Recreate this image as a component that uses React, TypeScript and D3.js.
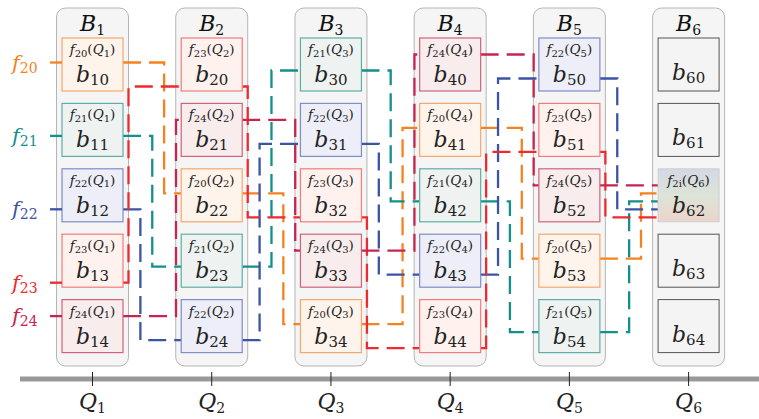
import React from "react";
import * as d3 from "d3";

// ---- data ----
const COLUMNS = ["1", "2", "3", "4", "5", "6"]; // Q_j / B_j subscripts
const FUNCS = ["20", "21", "22", "23", "24"]; // f_k subscripts
const FUNC_COLORS = ["#F58220", "#13908A", "#3B54A5", "#EC2A30", "#C62451"];
const BOX_FILLS = ["#FFF4EB", "#EEF2F0", "#EEEEF8", "#FFF2EE", "#F8ECEC"];
const BOX_STROKES = ["#F4A86C", "#5EAEA8", "#7F8DC9", "#F27C7C", "#D0627C"];
// function index held by each row of columns B1..B5
const ROWS = [
  [0, 1, 2, 3, 4],
  [3, 4, 0, 1, 2],
  [1, 2, 3, 4, 0],
  [4, 0, 1, 2, 3],
  [2, 3, 4, 0, 1],
];
const TARGET_ROW = 2; // b62 collects all
const ROW_IDS = [0, 1, 2, 3, 4];
const PORT_ORDER = [4, 0, 1, 2, 3]; // vertical port order inside a box
const LANE_ORDER = [3, 2, 1, 0, 4]; // vertical channel order in each gap

const W = 759;
const H = 419;
const FONT = "DejaVu Serif";

export default function App() {
  const xC = d3.scalePoint<string>().domain(COLUMNS).range([92.5, 688.6]);
  const rowTop = d3.scaleLinear().domain([0, 4]).range([38, 299.6]);
  const boxW = 61;
  const boxH = 53;
  const portY = d3.scaleLinear().domain([0, 4]).range([16.5, 48.5]);
  const laneX = d3.scaleLinear().domain([0, 4]).range([5.5, 53]);
  const line = d3.line<[number, number]>();

  const fy = (col: number, fi: number) => {
    const row = col < 5 ? ROWS[col].indexOf(fi) : TARGET_ROW;
    return rowTop(row) + portY(PORT_ORDER.indexOf(fi));
  };

  const paths: { d: string; color: string; key: string }[] = [];
  FUNCS.forEach((_, fi) => {
    for (let j = 0; j < 5; j++) {
      const xr = (xC(COLUMNS[j]) as number) + boxW / 2;
      const xl = (xC(COLUMNS[j + 1]) as number) - boxW / 2;
      const y0 = fy(j, fi);
      const y1 = fy(j + 1, fi);
      const lx = xr + laneX(LANE_ORDER.indexOf(fi));
      const pts: [number, number][] = [
        [xr, y0],
        [lx, y0],
        [lx, y1],
        [xl, y1],
      ];
      paths.push({ d: line(pts) as string, color: FUNC_COLORS[fi], key: `p${fi}-${j}` });
    }
  });

  const sub = (main: string, s: string, mainSize: number, subSize: number, dy: number) => (
    <>
      <tspan fontStyle="italic" fontSize={mainSize}>{main}</tspan>
      <tspan fontSize={subSize} dy={dy}>{s}</tspan>
    </>
  );

  const smallLabel = (fs: string, q: string) => (
    <>
      <tspan fontStyle="italic" fontSize={13.5}>f</tspan>
      <tspan fontSize={10} dy={2.5}>{fs}</tspan>
      <tspan fontSize={13.5} dy={-2.5}>(</tspan>
      <tspan fontStyle="italic" fontSize={13.5}>Q</tspan>
      <tspan fontSize={10} dy={2.5}>{q}</tspan>
      <tspan fontSize={13.5} dy={-2.5}>)</tspan>
    </>
  );

  return (
    <svg width={W} height={H} style={{ position: "absolute", left: 0, top: 0, background: "#fff", fontFamily: FONT }}>
      <defs>
        <linearGradient id="g62" x1="0" y1="0" x2="0" y2="1">
          <stop offset="0" stopColor="#D4D8E7" />
          <stop offset="0.5" stopColor="#DDE4D7" />
          <stop offset="1" stopColor="#EBD4CB" />
        </linearGradient>
      </defs>
      {/* containers */}
      {COLUMNS.map((c) => (
        <g key={"c" + c}>
          <rect x={(xC(c) as number) - 36} y={8} width={72} height={358} rx={9} fill="#F4F5F4" stroke="#B5B5B5" strokeWidth={1} />
          <text x={xC(c)} y={31} textAnchor="middle" fill="#111">
            {sub("B", c, 22, 14, 4)}
          </text>
        </g>
      ))}
      {/* paths */}
      {paths.map((p) => (
        <path key={p.key} d={p.d} fill="none" stroke={p.color} strokeWidth={2.3} strokeDasharray="18 8" />
      ))}
      {/* boxes B1..B5 */}
      {ROWS.map((rows, j) =>
        rows.map((fi, r) => {
          const x = (xC(COLUMNS[j]) as number) - boxW / 2;
          const y = rowTop(r);
          return (
            <g key={`b${j}${r}`}>
              <rect x={x} y={y} width={boxW} height={boxH} fill={BOX_FILLS[fi]} stroke={BOX_STROKES[fi]} strokeWidth={1.2} />
              <text x={x + boxW / 2} y={y + 16} textAnchor="middle" fill="#222">
                {smallLabel(FUNCS[fi], COLUMNS[j])}
              </text>
              <text x={x + boxW / 2} y={y + 44} textAnchor="middle" fill="#222">
                {sub("b", `${COLUMNS[j]}${r}`, 22, 15, 3)}
              </text>
            </g>
          );
        })
      )}
      {/* B6 */}
      {ROW_IDS.map((r) => {
        const x = (xC(COLUMNS[5]) as number) - boxW / 2;
        const y = rowTop(r);
        const target = r === TARGET_ROW;
        return (
          <g key={`b6${r}`}>
            <rect x={x} y={y} width={boxW} height={boxH} fill={target ? "url(#g62)" : "#F4F4F4"} stroke={target ? "#CFCFCF" : "#555"} strokeWidth={1} />
            {target && (
              <text x={x + boxW / 2} y={y + 16} textAnchor="middle" fill="#222">
                {smallLabel("2i", COLUMNS[5])}
              </text>
            )}
            <text x={x + boxW / 2} y={target ? y + 44 : y + 42} textAnchor="middle" fill="#222">
              {sub("b", `6${r}`, 22, 15, 3)}
            </text>
          </g>
        );
      })}
      {/* left labels */}
      {FUNCS.map((f, fi) => {
        const y = fy(0, fi);
        return (
          <g key={"l" + f}>
            <line x1={50} x2={(xC(COLUMNS[0]) as number) - boxW / 2} y1={y} y2={y} stroke={FUNC_COLORS[fi]} strokeWidth={2.3} />
            <text x={12} y={y + 7} fill={FUNC_COLORS[fi]}>
              {sub("f", f, 21, 14, 3)}
            </text>
          </g>
        );
      })}
      {/* axis */}
      <line x1={20} x2={W} y1={379} y2={379} stroke="#999" strokeWidth={5} />
      {COLUMNS.map((c) => (
        <g key={"t" + c}>
          <line x1={xC(c)} x2={xC(c)} y1={372} y2={386} stroke="#222" strokeWidth={1} />
          <text x={xC(c)} y={409} textAnchor="middle" fill="#222">
            {sub("Q", c, 22, 14, 4)}
          </text>
        </g>
      ))}
    </svg>
  );
}
